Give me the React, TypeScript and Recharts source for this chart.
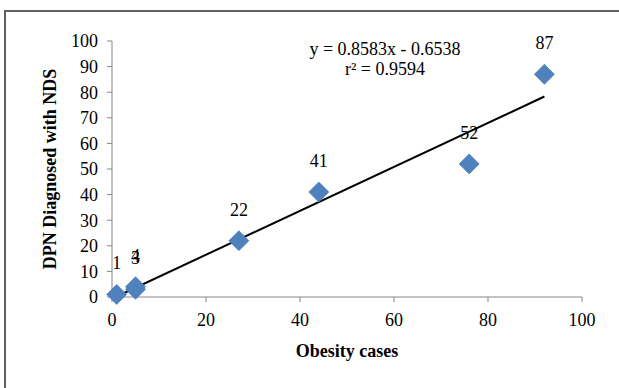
import { ScatterChart, Scatter, XAxis, YAxis, Label, ReferenceLine } from 'recharts'

const obesityCases = [1, 5, 5, 27, 44, 76, 92]
const dpnCases = [1, 3, 4, 22, 41, 52, 87]
const xTicks = [0, 20, 40, 60, 80, 100]
const yTicks = [0, 10, 20, 30, 40, 50, 60, 70, 80, 90, 100]

// trendline as printed on the chart
const slope = 0.8583
const intercept = -0.6538
const equationText = 'y = 0.8583x - 0.6538'
const rSquaredText = 'r² = 0.9594'

const points = obesityCases.map((x, i) => ({ x, y: dpnCases[i] }))

const minX = Math.min(...obesityCases)
const maxX = Math.max(...obesityCases)

const FONT = '"Liberation Serif", "Times New Roman", serif'
const AXIS_GREY = '#868686'
const MARKER = '#4F81BD'

function Diamond(props: any) {
  const { cx, cy, payload } = props
  const r = 10
  return (
    <g>
      <path
        d={`M${cx},${cy - r} L${cx + r},${cy} L${cx},${cy + r} L${cx - r},${cy} Z`}
        fill={MARKER}
        stroke="#4A7EBB"
        strokeWidth={0.75}
      />
      <text
        x={cx}
        y={cy - 25}
        textAnchor="middle"
        style={{ fontFamily: FONT, fontSize: 18 }}
        fill="#000"
      >
        {payload.y}
      </text>
    </g>
  )
}

export default function App() {
  return (
    <div
      style={{
        position: 'absolute',
        left: 0,
        top: 0,
        width: 619,
        height: 388,
        overflow: 'hidden',
        background: '#fff',
        fontFamily: FONT,
      }}
    >
      <div
        style={{
          position: 'absolute',
          left: 4,
          top: 10,
          width: 700,
          height: 500,
          border: '2px solid #606060',
        }}
      />
      <div style={{ position: 'absolute', left: 0, top: 0 }}>
        <ScatterChart
          width={619}
          height={388}
          margin={{ top: 41, right: 37, bottom: 21, left: 20 }}
        >
          <XAxis
            type="number"
            dataKey="x"
            domain={[0, 100]}
            ticks={xTicks}
            interval={0}
            height={70}
            stroke={AXIS_GREY}
            tickSize={5}
            tickMargin={11}
            tick={{ fill: '#000', fontSize: 18, fontFamily: FONT }}
          >
            <Label
              value="Obesity cases"
              position="insideBottom"
              offset={10}
              style={{ fill: '#000', fontSize: 18, fontWeight: 'bold', fontFamily: FONT }}
            />
          </XAxis>
          <YAxis
            type="number"
            dataKey="y"
            domain={[0, 100]}
            ticks={yTicks}
            interval={0}
            width={92}
            stroke={AXIS_GREY}
            tickSize={5}
            tickMargin={9}
            tick={{ fill: '#000', fontSize: 18, fontFamily: FONT }}
          >
            <Label
              value="DPN Diagnosed with NDS"
              angle={-90}
              position="insideLeft"
              offset={30}
              style={{
                fill: '#000',
                fontSize: 18,
                fontWeight: 'bold',
                fontFamily: FONT,
                textAnchor: 'middle',
              }}
            />
          </YAxis>
          <ReferenceLine
            segment={[
              { x: minX, y: slope * minX + intercept },
              { x: maxX, y: slope * maxX + intercept },
            ]}
            stroke="#000"
            strokeWidth={2}
            ifOverflow="visible"
          />
          <Scatter data={points} shape={Diamond} isAnimationActive={false} />
          <text x={385} y={55} textAnchor="middle" style={{ fontFamily: FONT, fontSize: 18 }} fill="#000">
            {equationText}
          </text>
          <text x={385} y={75} textAnchor="middle" style={{ fontFamily: FONT, fontSize: 18 }} fill="#000">
            {rSquaredText}
          </text>
        </ScatterChart>
      </div>
    </div>
  )
}
